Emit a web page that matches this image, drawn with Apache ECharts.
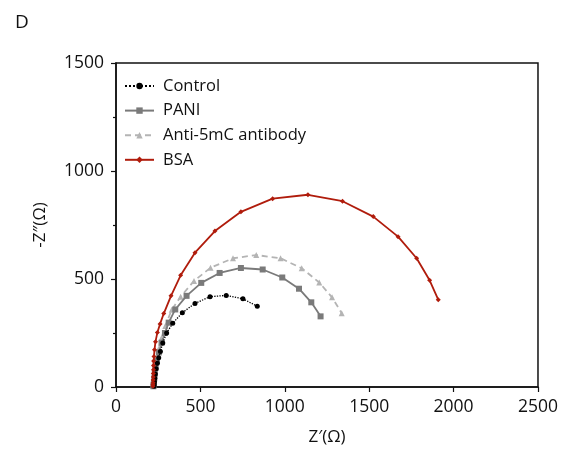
<!DOCTYPE html>
<html>
<head>
<meta charset="utf-8">
<script src="https://cdn.jsdelivr.net/npm/echarts@6/dist/echarts.min.js"></script>
<style>
html,body{margin:0;padding:0;background:#fff;}
#c{width:561px;height:451px;}
</style>
</head>
<body>
<div id="c"></div>
<script>
var seriesNames = ['Control', 'PANI', 'Anti-5mC antibody', 'BSA'];
var controlData = [[225,4],[226,12],[228,24],[230,40],[233,60],[238,84],[245,110],[253,135],[263,164],[277,204],[300,250],[336,295],[393,344],[468,387],[557,418],[653,424],[752,408],[837,374]];
var paniData = [[222,4],[223,12],[225,24],[227,40],[230,62],[235,90],[243,122],[254,160],[270,205],[290,250],[312,298],[351,359],[418,422],[505,482],[614,528],[740,551],[869,544],[985,507],[1084,455],[1157,392],[1212,327]];
var antiData = [[221,4],[222,12],[224,26],[226,44],[229,68],[234,98],[241,134],[252,176],[268,224],[292,282],[330,358],[383,418],[462,491],[560,552],[693,596],[831,611],[975,596],[1100,550],[1204,484],[1280,415],[1337,342]];
var bsaData = [[219,3],[219,10],[220,20],[220,32],[221,46],[221,62],[222,80],[222,100],[223,120],[225,141],[228,172],[234,210],[245,252],[261,292],[283,340],[326,422],[383,517],[468,622],[586,722],[740,811],[928,872],[1137,890],[1342,860],[1524,789],[1671,696],[1781,596],[1858,494],[1909,404]];
var xTicks = [0, 500, 1000, 1500, 2000, 2500];
var yTicks = [0, 500, 1000, 1500];

var FONT = 'Open Sans';
var chart = echarts.init(document.getElementById('c'), null, {renderer: 'canvas'});
chart.setOption({
  backgroundColor: '#fff',
  animation: false,
  title: {text: 'D', left: 10, top: 8, textStyle: {fontFamily: FONT, fontSize: 19, fontWeight: 'normal', color: '#111'}},
  grid: {left: 116, right: 23, top: 63, bottom: 62, show: true, borderColor: '#111', borderWidth: 1.5, backgroundColor: 'transparent'},
  legend: {
    orient: 'vertical', left: 119, top: 71, itemGap: 4.6, itemWidth: 29, itemHeight: 8,
    textStyle: {fontFamily: FONT, fontSize: 16.5, color: '#111', lineHeight: 20, padding: [0, 0, 0, 4]},
    data: seriesNames
  },
  xAxis: {
    type: 'value', min: xTicks[0], max: xTicks[xTicks.length - 1], interval: 500,
    name: 'Z\u2032(\u03A9)', nameLocation: 'middle', nameGap: 42,
    nameTextStyle: {fontFamily: FONT, fontSize: 17, color: '#111'},
    axisLine: {lineStyle: {color: '#111', width: 1.5}},
    axisTick: {show: true, inside: false, length: 5, lineStyle: {color: '#111', width: 1.2}},
    axisLabel: {fontFamily: FONT, fontSize: 17.5, color: '#111', margin: 11, formatter: function (v) { return String(v); }},
    splitLine: {show: false}
  },
  yAxis: {
    type: 'value', min: yTicks[0], max: yTicks[yTicks.length - 1], interval: 500,
    name: '-Z\u2033(\u03A9)', nameLocation: 'middle', nameGap: 67,
    nameTextStyle: {fontFamily: FONT, fontSize: 17, color: '#111'},
    axisLine: {lineStyle: {color: '#111', width: 1.5}},
    axisTick: {show: true, inside: false, length: 5, lineStyle: {color: '#111', width: 1.2}},
    minorTick: {show: true, splitNumber: 2, length: 3, lineStyle: {color: '#111', width: 1.2}},
    axisLabel: {fontFamily: FONT, fontSize: 17.5, color: '#111', margin: 12, formatter: function (v) { return String(v); }},
    splitLine: {show: false}
  },
  series: [
    {name: seriesNames[0], type: 'line', data: controlData, symbol: 'circle', symbolSize: 5,
     itemStyle: {color: '#000'}, lineStyle: {color: '#000', width: 1.3, type: 'dotted'}, z: 4},
    {name: seriesNames[1], type: 'line', data: paniData, symbol: 'rect', symbolSize: 6,
     itemStyle: {color: '#7a7a7a'}, lineStyle: {color: '#7a7a7a', width: 1.8, type: 'solid'}, z: 3},
    {name: seriesNames[2], type: 'line', data: antiData, symbol: 'triangle', symbolSize: 6,
     itemStyle: {color: '#b4b4b4'}, lineStyle: {color: '#b4b4b4', width: 1.8, type: [6, 4]}, z: 2},
    {name: seriesNames[3], type: 'line', data: bsaData, symbol: 'diamond', symbolSize: 5,
     itemStyle: {color: '#b01c0c'}, lineStyle: {color: '#b01c0c', width: 1.8, type: 'solid'}, z: 5}
  ]
});
</script>
</body>
</html>
